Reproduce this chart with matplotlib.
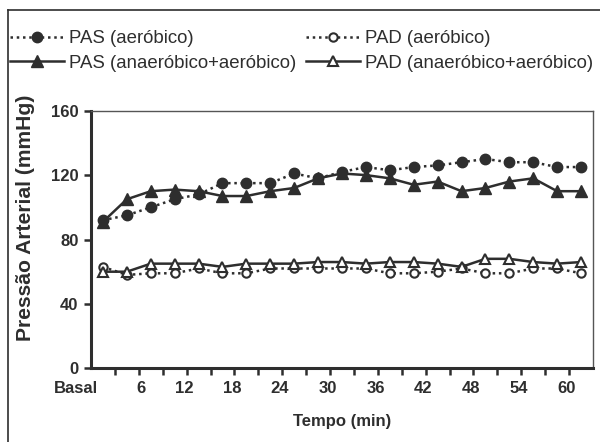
import numpy as np
import matplotlib.pyplot as plt
import matplotlib.transforms as mtrans
from matplotlib.lines import Line2D

plt.rcParams['font.family'] = ['Liberation Sans', 'DejaVu Sans']

tempo = ["Basal", "3", "6", "9", "12", "15", "18", "21", "24", "27", "30",
         "33", "36", "39", "42", "45", "48", "51", "54", "57", "60"]
pas_aer = [92, 95, 100, 105, 108, 115, 115, 115, 121, 118, 122,
           125, 123, 125, 126, 128, 130, 128, 128, 125, 125]
pas_anaer = [91, 105, 110, 111, 110, 107, 107, 110, 112, 118, 121,
             120, 118, 114, 116, 110, 112, 116, 118, 110, 110]
pad_aer = [63, 58, 59, 59, 62, 59, 59, 62, 62, 62, 62,
           62, 59, 59, 60, 62, 59, 59, 62, 62, 59]
pad_anaer = [60, 60, 65, 65, 65, 63, 65, 65, 65, 66, 66,
             65, 66, 66, 65, 63, 68, 68, 66, 65, 66]

cor = "#2e2e2e"
x = np.arange(len(tempo))

fig = plt.figure(figsize=(6.0, 4.42), dpi=100)
ax = fig.add_axes([91 / 600, 1 - 368.3 / 442, 502 / 600, 257.6 / 442])

dots = (1, 1.5)
ax.plot(x, pas_aer, color=cor, lw=1.8, dashes=dots, marker="o", ms=7.5,
        mfc=cor, mec=cor, label="PAS (aeróbico)")
ax.plot(x, pad_aer, color=cor, lw=1.8, dashes=dots, marker="o", ms=6,
        mfc="white", mec=cor, mew=1.5, label="PAD (aeróbico)")
ax.plot(x, pas_anaer, color=cor, lw=1.8, marker="^", ms=8,
        mfc=cor, mec=cor, label="PAS (anaeróbico+aeróbico)")
ax.plot(x, pad_anaer, color=cor, lw=1.8, marker="^", ms=6.5,
        mfc="white", mec=cor, mew=1.5, label="PAD (anaeróbico+aeróbico)")

ax.set_xlim(-0.5, len(tempo) - 0.5)
ax.set_ylim(0, 160)
ax.set_yticks([0, 40, 80, 120, 160])
ax.set_xticks(x[::2])
ax.set_xticklabels(tempo[::2], fontweight="bold", fontsize=12, color=cor)
ax.set_xticks(np.arange(0.5, len(tempo) - 0.5), minor=True)
ax.tick_params(axis="x", which="major", length=0, pad=9)
ax.tick_params(axis="x", which="minor", length=5, width=1.8, color=cor)
ax.tick_params(axis="y", length=5, width=1.8, color=cor, pad=4)
for lab in ax.get_yticklabels():
    lab.set_fontweight("bold")
    lab.set_fontsize(12)
    lab.set_color(cor)
shift = mtrans.ScaledTranslation(-5 / 100, 0, fig.dpi_scale_trans)
for lab in ax.get_xticklabels():
    lab.set_horizontalalignment("right")
    lab.set_transform(lab.get_transform() + shift)

for s in ["left", "bottom"]:
    ax.spines[s].set_linewidth(2.2)
    ax.spines[s].set_color(cor)
for s in ["top", "right"]:
    ax.spines[s].set_linewidth(1.0)
    ax.spines[s].set_color("#555555")

ax.set_xlabel("Tempo (min)", fontweight="bold", fontsize=12, color=cor, labelpad=13)
ax.set_ylabel("Pressão Arterial (mmHg)", fontweight="bold", fontsize=15.2, color=cor)
ax.yaxis.set_label_coords(-0.131, 0.583)
ax.yaxis.label.set_verticalalignment("center")

h, l = ax.get_legend_handles_labels()
order = [0, 2, 1, 3]
fig.legend([h[i] for i in order], [l[i] for i in order], ncol=2,
           loc="upper left", bbox_to_anchor=(10 / 600, 1 - 30 / 442),
           frameon=False, fontsize=13.4, handlelength=2.9, handletextpad=0.25,
           columnspacing=0.55, labelspacing=0.4, borderpad=0, borderaxespad=0,
           labelcolor=cor)

fig.add_artist(Line2D([7.5 / 600, 7.5 / 600], [0, 1 - 9.5 / 442],
                      transform=fig.transFigure, color=cor, lw=1.2))
fig.add_artist(Line2D([7.5 / 600, 1], [1 - 9.5 / 442, 1 - 9.5 / 442],
                      transform=fig.transFigure, color=cor, lw=1.2))

fig.savefig("out.png", dpi=100)
